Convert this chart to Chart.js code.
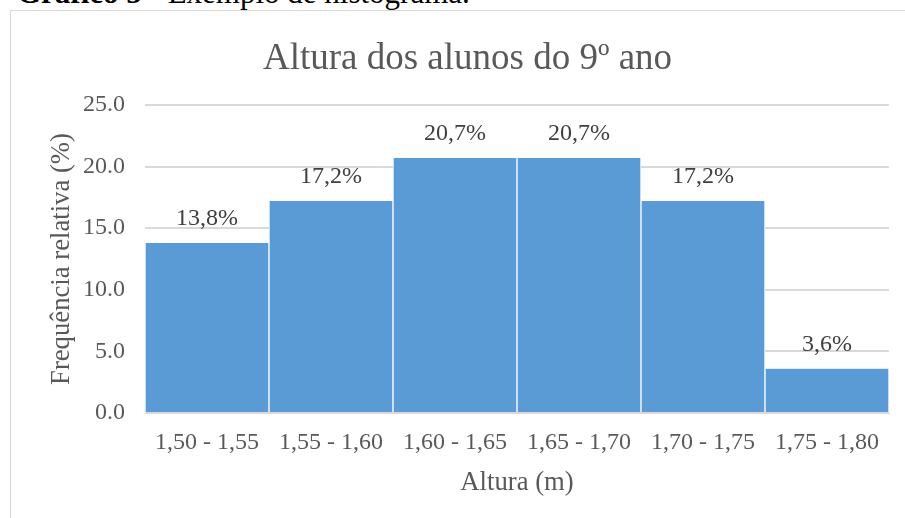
<!DOCTYPE html>
<html>
<head>
<meta charset="utf-8">
<script src="https://cdn.jsdelivr.net/npm/chart.js@4/dist/chart.umd.min.js"></script>
<style>
  html, body { margin: 0; padding: 0; background: #fff; }
  #wrap { position: relative; width: 905px; height: 518px; overflow: hidden; }
  #hdr { position: absolute; left: 17px; top: -23.5px; font-family: "Liberation Serif", "Times New Roman", serif; font-size: 31px; line-height: 31px; color: #000; white-space: nowrap; }
  #frame { position: absolute; left: 10px; top: 10px; width: 1000px; height: 600px; border-left: 1px solid #D9D9D9; border-top: 1px solid #D9D9D9; box-sizing: border-box; }
  canvas { position: absolute; left: 0; top: 0; }
</style>
</head>
<body>
<div id="wrap">
  <div id="hdr"><b>Gráfico 5</b> - Exemplo de histograma.</div>
  <div id="frame"></div>
  <canvas id="c" width="905" height="518"></canvas>
</div>
<script>
const categories = ["1,50 - 1,55", "1,55 - 1,60", "1,60 - 1,65", "1,65 - 1,70", "1,70 - 1,75", "1,75 - 1,80"];
const frequencies = [13.8, 17.2, 20.7, 20.7, 17.2, 3.6];
const chartTitle = "Altura dos alunos do 9º ano";
const xTitle = "Altura (m)";
const yTitle = "Frequência relativa (%)";

const serif = '"Liberation Serif", "Times New Roman", serif';

const dataLabels = {
  id: 'dataLabels',
  afterDatasetsDraw(chart) {
    const ctx = chart.ctx;
    const meta = chart.getDatasetMeta(0);
    ctx.save();
    ctx.font = '24px ' + serif;
    ctx.fillStyle = '#404040';
    ctx.textAlign = 'center';
    ctx.textBaseline = 'middle';
    meta.data.forEach((bar, i) => {
      const v = chart.data.datasets[0].data[i];
      ctx.fillText(v.toFixed(1).replace('.', ',') + '%', bar.x, bar.y - 24);
    });
    ctx.restore();
  }
};

new Chart(document.getElementById('c'), {
  type: 'bar',
  data: {
    labels: categories,
    datasets: [{
      data: frequencies,
      backgroundColor: '#5B9BD5',
      borderColor: '#FFFFFF',
      borderWidth: {left: 1, right: 1, top: 0, bottom: 0},
      borderSkipped: false,
      barPercentage: 1,
      categoryPercentage: 1
    }]
  },
  options: {
    responsive: false,
    animation: false,
    layout: { padding: { left: 46, right: 16, top: 20, bottom: 19 } },
    plugins: {
      legend: { display: false },
      tooltip: { enabled: false },
      title: {
        display: true,
        text: chartTitle,
        color: '#595959',
        font: { family: serif, size: 37, weight: 'normal' },
        padding: { top: 17, bottom: 23.6 }
      }
    },
    scales: {
      x: {
        grid: { display: false, drawTicks: false },
        border: { display: true, color: '#D9D9D9', width: 1 },
        ticks: { color: '#595959', font: { family: serif, size: 24 }, padding: 15, maxRotation: 0 },
        title: { display: true, text: xTitle, color: '#595959', font: { family: serif, size: 26.7 }, padding: { top: 0, bottom: 0 } },
        afterFit(scale) { scale.height = 86; }
      },
      y: {
        min: 0, max: 25,
        ticks: { stepSize: 5, color: '#595959', font: { family: serif, size: 24 }, padding: 20,
                 callback: v => Number(v).toFixed(1) },
        grid: { color: '#D9D9D9', lineWidth: 2, drawTicks: false },
        border: { display: false },
        title: { display: true, text: yTitle, color: '#595959', font: { family: serif, size: 26.7 }, padding: { top: 0, bottom: 0 } },
        afterFit(scale) { scale.width = 99; }
      }
    }
  },
  plugins: [dataLabels]
});
</script>
</body>
</html>
